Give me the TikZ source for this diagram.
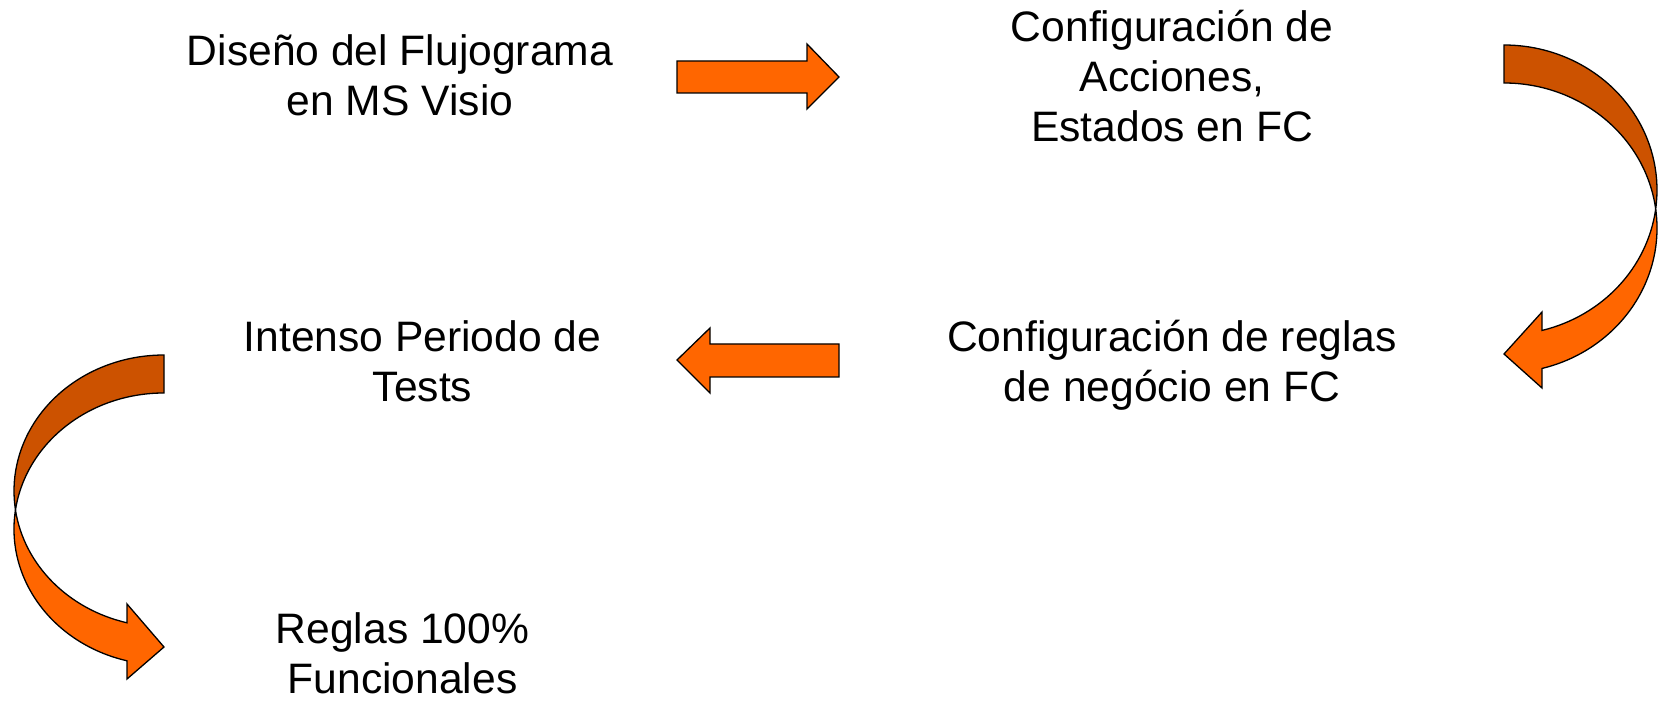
\documentclass[tikz,border=0pt]{standalone}
\usepackage{fontspec}
\setmainfont{Liberation Sans}
\definecolor{orangeL}{HTML}{FF6600}
\definecolor{orangeD}{HTML}{CC5200}
\newcommand{\mystack}[1]{\vtop{\halign{\hfil##\hfil\cr#1\crcr}}}
\begin{document}
\begin{tikzpicture}[x=1pt,y=1pt,
  txt/.style={inner sep=0pt, anchor=base, font=\fontsize{42.6}{50}\selectfont},
  lightpart/.style={fill=orangeL, draw=black, line width=1.3pt, line join=miter},
  darkpart/.style={fill=orangeD, draw=black, line width=1.3pt, line join=miter}]
\useasboundingbox[fill=white] (0,0) rectangle (1663,702);

% texts
\node[txt] (t1) at (400,636) {\mystack{Diseño del Flujograma\cr en MS Visio}};
\node[txt] (t2) at (1172,660) {\mystack{Configuración de\cr Acciones,\cr Estados en FC}};
\node[txt] (t3) at (1172,350) {\mystack{Configuración de reglas\cr de negócio en FC}};
\node[txt] (t4) at (422.5,350) {\mystack{Intenso Periodo de\cr Tests}};
\node[txt] (t5) at (402.5,59) {\mystack{Reglas 100\%\cr Funcionales}};

% straight arrow right (t1 -> t2)
\draw[lightpart] (677,641) -- (807,641) -- (807,658) -- (839,625) -- (807,593) -- (807,609) -- (677,609) -- cycle;

% straight arrow left (t3 -> t4)
\draw[lightpart] (839,358) -- (710,358) -- (710,374) -- (677,342) -- (710,309) -- (710,325) -- (839,325) -- cycle;

% curved arrow on the right (t2 -> t3)
\draw[darkpart] (1504,657)
  arc[start angle=90, end angle=-7.53, x radius=153, y radius=145]
  arc[start angle=7.53, end angle=90, x radius=153, y radius=145] -- cycle;
\draw[lightpart] (1655.68,493)
  arc[start angle=-7.53, end angle=-75.62, x radius=153, y radius=145]
  -- (1542,390) -- (1504,348) -- (1542,314) -- (1542,333.54)
  arc[start angle=-75.62, end angle=7.53, x radius=153, y radius=145] -- cycle;

% curved arrow on the left (t4 -> t5)
\draw[darkpart] (164,347)
  arc[start angle=90, end angle=188.03, x radius=150, y radius=136]
  arc[start angle=171.97, end angle=90, x radius=150, y radius=136] -- cycle;
\draw[lightpart] (15.47,192)
  arc[start angle=188.03, end angle=255.72, x radius=150, y radius=136]
  -- (127,98) -- (164,55) -- (127,23) -- (127,41.2)
  arc[start angle=255.72, end angle=171.97, x radius=150, y radius=136] -- cycle;
\end{tikzpicture}
\end{document}
